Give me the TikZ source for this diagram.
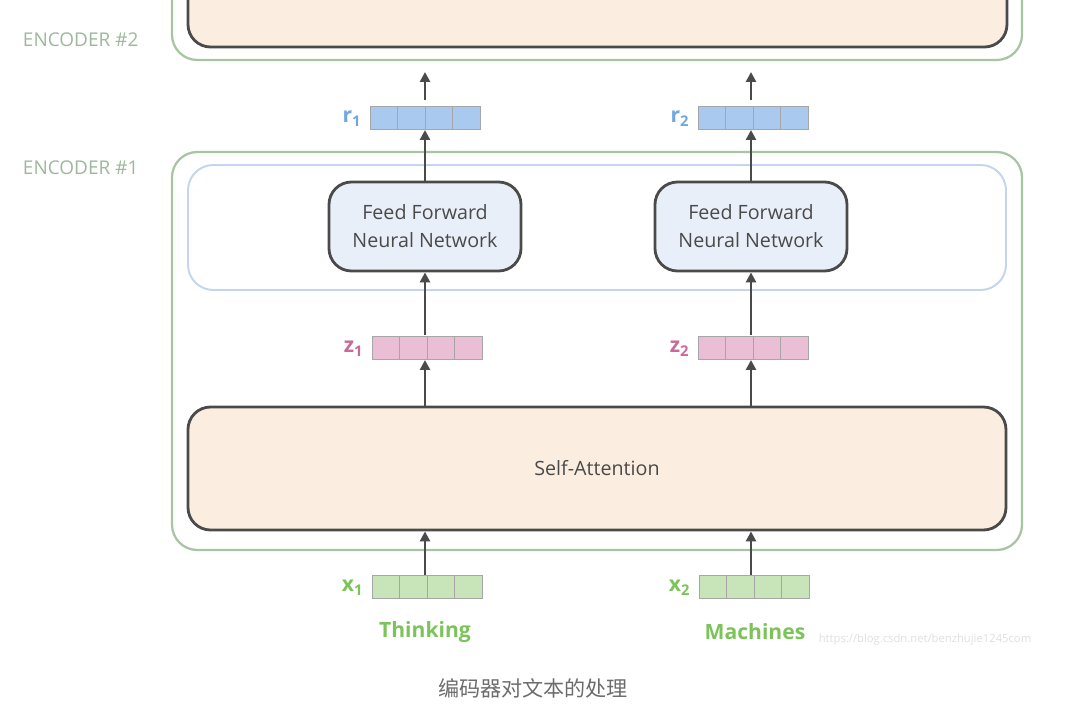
\documentclass[tikz,border=0pt]{standalone}
\usepackage{fontspec}
\setmainfont{Open Sans}
\newfontfamily\cjk{Noto Sans CJK SC}
\usetikzlibrary{arrows.meta}
\definecolor{encg}{HTML}{A9C4A2}
\definecolor{enct}{HTML}{9DB89A}
\definecolor{peach}{HTML}{FBEEE1}
\definecolor{ffn}{HTML}{E9EFF9}
\definecolor{bl}{HTML}{C4D5F0}
\definecolor{rb}{HTML}{A9C9EF}
\definecolor{zp}{HTML}{EABED4}
\definecolor{xg}{HTML}{C7E5B8}
\definecolor{dk}{HTML}{4A4A4A}
\definecolor{rt}{HTML}{6FA8DC}
\definecolor{zt}{HTML}{C8699A}
\definecolor{xt}{HTML}{7CC35A}
\begin{document}
\begin{tikzpicture}[x=0.025cm,y=-0.025cm,
 outer/.style={draw=encg,line width=1.6pt,rounded corners=18pt},
 core/.style={draw=dk,line width=2pt,rounded corners=16pt},
 arr/.style={-{Triangle[length=7pt,width=7pt]},draw=dk,line width=1.8pt},
 enc/.style={text=enct,font=\fontsize{13.5}{16}\selectfont},
 cell/.style={draw=gray!70,line width=0.5pt,minimum width=27.5*0.025cm,minimum height=23*0.025cm,inner sep=0pt},
 ffnt/.style={core,fill=ffn,minimum width=192*0.025cm,minimum height=89*0.025cm,align=center,text=dk,font=\fontsize{14}{20}\selectfont}]
\useasboundingbox (0,0) rectangle (1080,716);
% encoder 2
\draw[outer] (172,-30) rectangle (1022,60);
\draw[core,fill=peach] (188,-30) rectangle (1007,47);
\node[enc,anchor=west] (e2) at (18,40) {ENCODER \#2};
% encoder 1
\draw[outer] (172,152) rectangle (1022,550);
\node[enc,anchor=west] (e1) at (18,168) {ENCODER \#1};
\draw[draw=bl,line width=1.4pt,rounded corners=18pt] (188,165) rectangle (1006,290);
\node[ffnt] (f1) at (425,226.5) {Feed Forward\\Neural Network};
\node[ffnt] (f2) at (751,226.5) {Feed Forward\\Neural Network};
\node[core,fill=peach,minimum width=818*0.025cm,minimum height=123*0.025cm,text=dk,font=\fontsize{14}{16}\selectfont] (sa) at (597,468.5) {Self-Attention};
% vectors
\foreach \n/\x/\y/\c/\t/\s/\k in {r1/370/117.5/rb/rt/r/1, r2/698/117.5/rb/rt/r/2, z1/372/347.5/zp/zt/z/1, z2/698/347.5/zp/zt/z/2, x1/372/586.5/xg/xt/x/1, x2/699/586.5/xg/xt/x/2}{
 \foreach \i in {0,1,2,3}{\node[cell,fill=\c] (\n c\i) at ({\x+13.75+27.5*\i},\y) {};}
 \node[anchor=east,text=\t,font=\fontsize{15}{16}\selectfont\bfseries,inner sep=1pt] (\n l) at (\x-7,\y+1) {\s\textsubscript{\k}};
}
\coordinate (t1) at (425,72); \coordinate (t2) at (751,72);
\draw[arr] (425,100) -- (t1); \draw[arr] (751,100) -- (t2);
\draw[arr] (f1.north) -- (425,130); \draw[arr] (f2.north) -- (751,130);
\draw[arr] (425,335) -- (f1.south); \draw[arr] (751,335) -- (f2.south);
\draw[arr] (sa.north -| 425,0) -- (425,360); \draw[arr] (sa.north -| 751,0) -- (751,360);
\draw[arr] (425,575) -- (sa.south -| 425,0); \draw[arr] (751,575) -- (sa.south -| 751,0);
\node[text=xt,font=\fontsize{15}{16}\selectfont\bfseries] (th) at (425,632) {Thinking};
\node[text=xt,font=\fontsize{15}{16}\selectfont\bfseries] (ma) at (755,632) {Machines};
\node[text=gray!25,font=\footnotesize] (wm) at (925,640) {https://blog.csdn.net/benzhujie1245com};
\node[text=gray!85!black,font=\cjk\fontsize{15}{18}\selectfont] (cap) at (533,688) {编码器对文本的处理};
\end{tikzpicture}
\end{document}
